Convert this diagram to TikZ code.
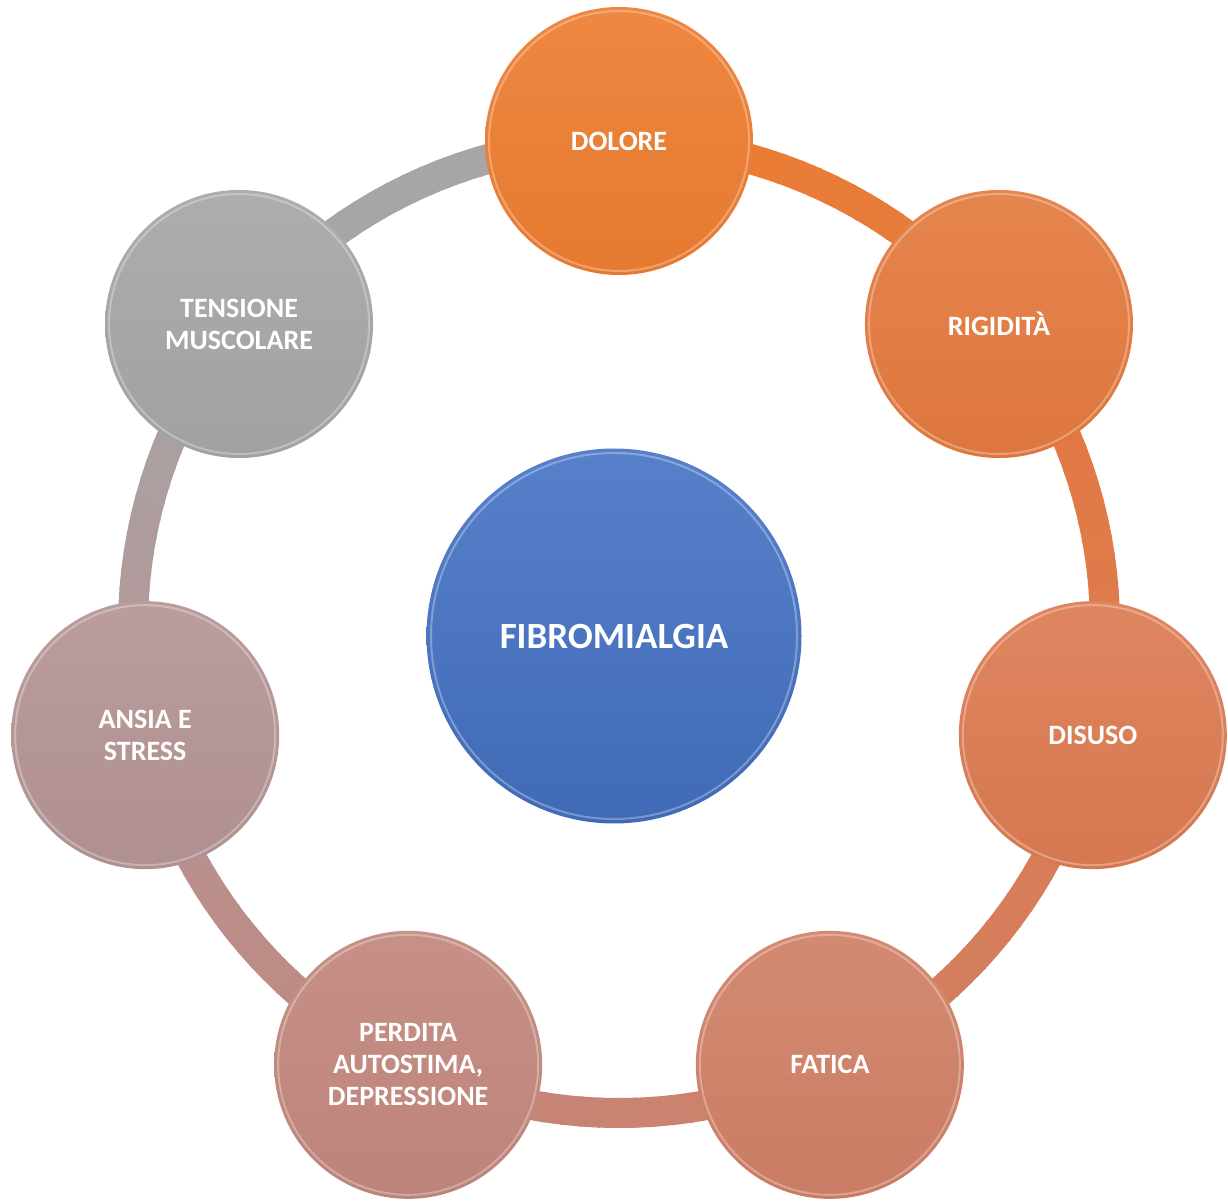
\documentclass[tikz,border=0pt]{standalone}
\usepackage{fontspec}
\setmainfont{Carlito}
\usetikzlibrary{calc}
\definecolor{c0}{HTML}{ED7D31}
\definecolor{c1}{HTML}{E47A3F}
\definecolor{c2}{HTML}{DC7B52}
\definecolor{c3}{HTML}{D08066}
\definecolor{c4}{HTML}{C2877D}
\definecolor{c5}{HTML}{B59495}
\definecolor{c6}{HTML}{A6A6A6}
\definecolor{cb}{HTML}{4472C4}
\tikzset{
  ball/.style={circle, minimum size=268pt, inner sep=0pt, text=white, align=center,
    font=\bfseries\fontsize{28}{32}\selectfont},
  hub/.style={circle, minimum size=375pt, inner sep=0pt, text=white, align=center,
    font=\bfseries\fontsize{37}{40}\selectfont, top color=cb!90!white, bottom color=cb!93!black},
  rim/.style={white, opacity=0.3, line width=2pt},
}
\begin{document}
\begin{tikzpicture}[x=1pt,y=1pt]
\useasboundingbox (0,0) rectangle (1228,1200);
\coordinate (C) at (619,573);
% ring
\foreach \k/\ca/\cbb in {0/c0/c1,1/c1/c2,2/c2/c3,3/c3/c4,4/c4/c5,5/c5/c6,6/c6/c6}{
  \foreach \j in {0,...,23}{
    \pgfmathsetmacro\aa{90-\k*360/7-\j*360/7/24}
    \pgfmathsetmacro\ab{\aa-360/7/24-0.4}
    \pgfmathtruncatemacro\p{100*(\j+0.5)/24}
    \draw[line width=30pt, color=\cbb!\p!\ca] (C) ++(\aa:486pt) arc[start angle=\aa, end angle=\ab, radius=486pt];
  }
}
% outer nodes
\node[ball, top color=c0!92!white, bottom color=c0!97!black] (n0) at ($(C)+(90:486pt)$) {DOLORE};
\node[ball, top color=c1!92!white, bottom color=c1!97!black] (n1) at ($(C)+(90-360/7:486pt)$) {RIGIDITÀ};
\node[ball, top color=c2!92!white, bottom color=c2!97!black] (n2) at ($(C)+(90-2*360/7:486pt)$) {DISUSO};
\node[ball, top color=c3!92!white, bottom color=c3!97!black] (n3) at ($(C)+(90-3*360/7:486pt)$) {FATICA};
\node[ball, top color=c4!92!white, bottom color=c4!97!black] (n4) at ($(C)+(90-4*360/7:486pt)$) {PERDITA\\AUTOSTIMA,\\DEPRESSIONE};
\node[ball, top color=c5!92!white, bottom color=c5!97!black] (n5) at ($(C)+(90-5*360/7:486pt)$) {ANSIA E\\STRESS};
\node[ball, top color=c6!92!white, bottom color=c6!97!black] (n6) at ($(C)+(90-6*360/7:486pt)$) {TENSIONE\\MUSCOLARE};
\foreach \i in {0,...,6}{
  \draw[rim] (n\i.center) circle[radius=130pt];
}
% hub
\node[hub] (hub) at (614,564) {FIBROMIALGIA};
\draw[rim] (hub.center) circle[radius=183pt];
\end{tikzpicture}
\end{document}
